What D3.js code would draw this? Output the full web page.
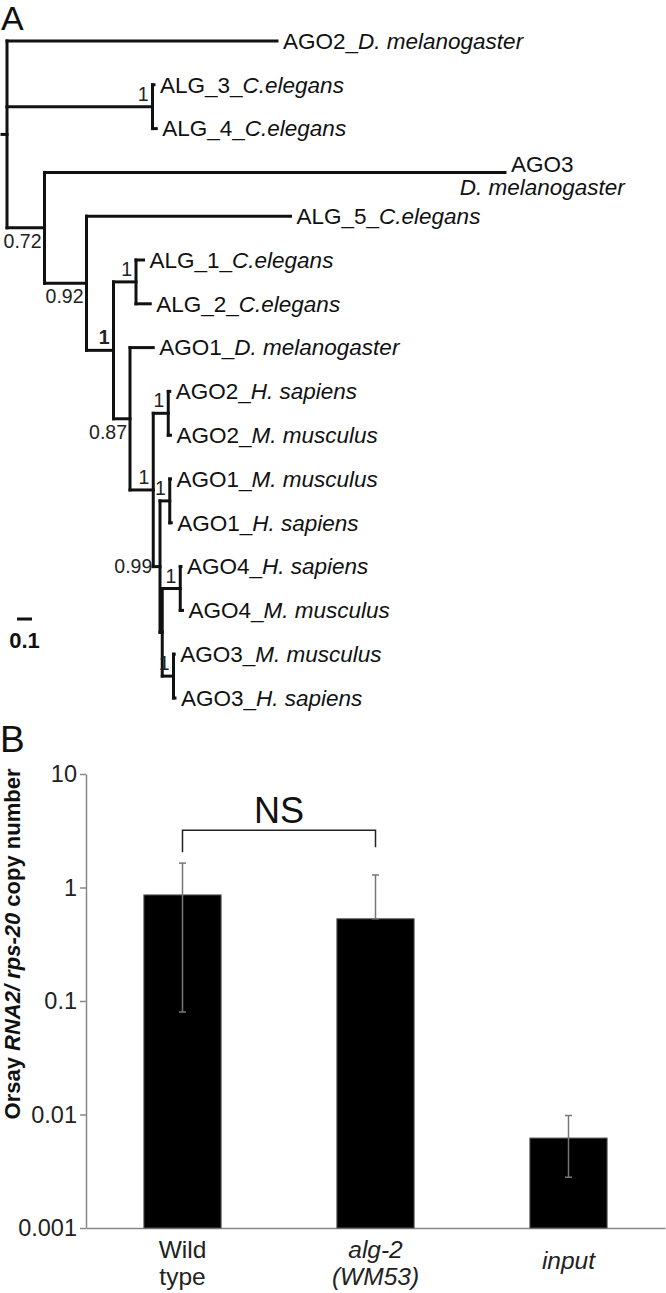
<!DOCTYPE html>
<html>
<head>
<meta charset="utf-8">
<script src="https://cdn.jsdelivr.net/npm/d3@7"></script>
<style>
  body { margin: 0; background: #fff; }
  svg { display: block; font-family: "Liberation Sans", Arial, sans-serif; }
</style>
</head>
<body>
<svg id="fig"></svg>
<script>
// Panel A: Argonaute tree (branch lengths in substitutions/site, support = posterior)
var mammalClade = {len: 0.155, support: "1", children: [
  {support: "1", len: 0.10, children: [
    {name: "AGO2_", sp: "H. sapiens", len: 0.01},
    {name: "AGO2_", sp: "M. musculus", len: 0.015}]},
  {support: "0.99", len: 0.045, children: [
    {support: "1", len: 0.065, children: [
      {name: "AGO1_", sp: "M. musculus", len: 0.005},
      {name: "AGO1_", sp: "H. sapiens", len: 0.01}]},
    {len: 0.015, children: [
      {support: "1", len: 0.12, children: [
        {name: "AGO4_", sp: "H. sapiens", len: 0.005},
        {name: "AGO4_", sp: "M. musculus", len: 0.015}]},
      {support: "1", len: 0.075, children: [
        {name: "AGO3_", sp: "M. musculus", len: 0.005},
        {name: "AGO3_", sp: "H. sapiens", len: 0.01}]}
    ]}
  ]}
]};

var ago1Clade = {support: "1", bold: true, len: 0.18, children: [
  {support: "1", len: 0.15, children: [
    {name: "ALG_1_", sp: "C.elegans", len: 0.05},
    {name: "ALG_2_", sp: "C.elegans", len: 0.095}]},
  {support: "0.87", len: 0.11, children: [
    {name: "AGO1_", sp: "D. melanogaster", len: 0.155},
    mammalClade
  ]}
]};

var tree = {children: [
  {name: "AGO2_", sp: "D. melanogaster", len: 1.80},
  {support: "1", len: 0.97, children: [
    {name: "ALG_3_", sp: "C.elegans", len: 0.01},
    {name: "ALG_4_", sp: "C.elegans", len: 0.025}]},
  {support: "0.72", len: 0.25, children: [
    {name: "AGO3", sp: "D. melanogaster", len: 3.07},
    {support: "0.92", len: 0.28, children: [
      {name: "ALG_5_", sp: "C.elegans", len: 1.36},
      ago1Clade
    ]}
  ]}
]};
var scaleBarLen = 0.1;

// Panel B: Orsay RNA2 / rps-20 copy number
var groups = ["Wild type", "alg-2 (WM53)", "input"];
var groupLines = [["Wild", "type"], ["alg-2", "(WM53)"], ["input"]];
var means = [0.86, 0.53, 0.0062];
var errHigh = [1.64, 1.29, 0.0098];
var errLow = [0.080, 0.53, 0.0028];
var yTicks = [0.001, 0.01, 0.1, 1, 10];

var W = 666, H = 1293;
var svg = d3.select("#fig").attr("width", W).attr("height", H);

svg.append("rect").attr("width", W).attr("height", H).attr("fill", "#fff");

// ---------- panel A ----------
svg.append("text").attr("x", 1).attr("y", 30)
  .attr("font-size", 34).attr("fill", "#111").text("A");

var x = d3.scaleLinear().domain([0, 1]).range([7, 157]);

var root = d3.hierarchy(tree);
root.eachBefore(function(d) {
  d.dist = d.parent ? d.parent.dist + d.data.len : 0;
});
var leaves = root.leaves();
var yLeaf = d3.scaleLinear().domain([0, leaves.length - 1]).range([41, 698]);
leaves.forEach(function(d, i) { d.py = yLeaf(i); });
root.eachAfter(function(d) {
  if (d.children) d.py = (d.children[0].py + d.children[d.children.length - 1].py) / 2;
});

var gTree = svg.append("g");

// horizontal branches
gTree.selectAll("path.branch")
  .data(root.descendants().filter(function(d) { return d.parent; }))
  .enter().append("path")
  .attr("class", "branch")
  .attr("d", function(d) {
    return "M" + x(d.parent.dist) + "," + d.py + "H" + x(d.dist);
  });

// vertical connectors
gTree.selectAll("path.vert")
  .data(root.descendants().filter(function(d) { return d.children; }))
  .enter().append("path")
  .attr("class", "vert")
  .attr("d", function(d) {
    return "M" + x(d.dist) + "," + d.children[0].py + "V" + d.children[d.children.length - 1].py;
  });

// root stub
gTree.append("path")
  .attr("d", "M" + (x(0) - 5) + "," + root.py + "H" + x(0));

gTree.selectAll("path")
  .attr("fill", "none")
  .attr("stroke", "#111")
  .attr("stroke-width", 3)
  .attr("stroke-linecap", "square");

// tip labels
leaves.forEach(function(d) {
  var tx = x(d.dist) + 6;
  var t = gTree.append("text")
    .attr("font-size", 22.5)
    .attr("fill", "#111");
  t.append("tspan").text(d.data.name);
  t.append("tspan").attr("font-style", "italic").text(d.data.sp);
  t.attr("x", tx).attr("y", d.py).attr("dy", "0.35em");
  // wrap long labels that would run off the page
  if (tx + t.node().getComputedTextLength() > W) {
    t.remove();
    var l1 = gTree.append("text").attr("font-size", 22.5).attr("fill", "#111")
      .attr("x", tx).attr("y", d.py).text(d.data.name.replace(/_$/, ""));
    var cx = tx + l1.node().getComputedTextLength() / 2;
    gTree.append("text").attr("font-size", 22.5).attr("fill", "#111")
      .attr("font-style", "italic")
      .attr("text-anchor", "middle")
      .attr("x", cx).attr("y", d.py + 23).text(d.data.sp);
  }
});

// support values
root.descendants().filter(function(d) { return d.data.support; }).forEach(function(d) {
  var nx = x(d.dist), lx, ly;
  if (d.data.support === "1") {
    lx = nx - 4; ly = d.py - 6;
  } else if (d.data.len < 0.05) {
    lx = x(d.parent.dist) - 1; ly = d.py + 6;
  } else {
    lx = nx - 3; ly = d.py + 20;
  }
  gTree.append("text")
    .attr("x", lx).attr("y", ly)
    .attr("text-anchor", "end")
    .attr("font-size", 19.5)
    .attr("font-weight", d.data.bold ? "bold" : "normal")
    .attr("fill", "#222")
    .text(d.data.support);
});

// scale bar
var sbX = 17, sbY = 619;
gTree.append("path")
  .attr("d", "M" + sbX + "," + sbY + "H" + (sbX + x(scaleBarLen) - x(0)))
  .attr("stroke", "#111").attr("stroke-width", 3);
gTree.append("text")
  .attr("x", sbX + (x(scaleBarLen) - x(0)) / 2).attr("y", 648)
  .attr("text-anchor", "middle")
  .attr("font-size", 22).attr("font-weight", "bold").attr("fill", "#111")
  .text("0.1");

// ---------- panel B ----------
svg.append("text").attr("x", 0).attr("y", 752)
  .attr("font-size", 37).attr("fill", "#111").text("B");

var yB = d3.scaleLog().domain([0.001, 10]).range([1228, 774]);
var xB = d3.scaleBand().domain(groups).range([86, 665])
  .paddingInner(0.6).paddingOuter(0.3);

var gB = svg.append("g");

var yAxis = gB.append("g")
  .attr("transform", "translate(86,0)")
  .call(d3.axisLeft(yB).tickValues(yTicks).tickSize(6).tickSizeOuter(0).tickPadding(3)
    .tickFormat(function(d) { return String(d); }));
yAxis.selectAll("path, line").attr("stroke", "#888").attr("stroke-width", 1.5);
yAxis.selectAll("text").attr("font-size", 23.5).attr("fill", "#222")
  .attr("font-family", "Liberation Sans, Arial, sans-serif");

var xAxis = gB.append("g")
  .attr("transform", "translate(0,1228)")
  .call(d3.axisBottom(xB).tickSize(0).tickSizeOuter(0).tickFormat(""));
xAxis.select(".domain").attr("stroke", "#888").attr("stroke-width", 1.5);

// bars
gB.selectAll("rect.bar")
  .data(groups)
  .enter().append("rect")
  .attr("class", "bar")
  .attr("x", function(d) { return xB(d); })
  .attr("width", xB.bandwidth())
  .attr("y", function(d, i) { return yB(means[i]); })
  .attr("height", function(d, i) { return yB(0.001) - yB(means[i]); })
  .attr("fill", "#000")
  .attr("stroke", "#555")
  .attr("stroke-width", 1);

// error bars
var eb = gB.selectAll("g.err")
  .data(groups)
  .enter().append("g")
  .attr("class", "err")
  .attr("stroke", "#777")
  .attr("stroke-width", 1.5);
eb.append("line")
  .attr("x1", function(d) { return xB(d) + xB.bandwidth() / 2; })
  .attr("x2", function(d) { return xB(d) + xB.bandwidth() / 2; })
  .attr("y1", function(d, i) { return yB(errHigh[i]); })
  .attr("y2", function(d, i) { return yB(errLow[i]); });
[errHigh, errLow].forEach(function(arr) {
  eb.append("line")
    .attr("x1", function(d) { return xB(d) + xB.bandwidth() / 2 - 3.5; })
    .attr("x2", function(d) { return xB(d) + xB.bandwidth() / 2 + 3.5; })
    .attr("y1", function(d, i) { return yB(arr[i]); })
    .attr("y2", function(d, i) { return yB(arr[i]); });
});

// NS bracket between first two groups
var bx1 = xB(groups[0]) + xB.bandwidth() / 2;
var bx2 = xB(groups[1]) + xB.bandwidth() / 2;
var by = yB(3.2);
gB.append("path")
  .attr("d", "M" + bx1 + "," + (by + 22) + "V" + by + "H" + bx2 + "V" + (by + 17))
  .attr("fill", "none").attr("stroke", "#222").attr("stroke-width", 1.5);
gB.append("text")
  .attr("x", (bx1 + bx2) / 2).attr("y", by - 7)
  .attr("text-anchor", "middle")
  .attr("font-size", 36).attr("fill", "#111")
  .text("NS");

// category labels
groups.forEach(function(g, i) {
  var lines = groupLines[i];
  var t = gB.append("text")
    .attr("text-anchor", "middle")
    .attr("font-size", 24.5)
    .attr("fill", "#222")
    .attr("font-style", i > 0 ? "italic" : "normal");
  lines.forEach(function(l, j) {
    t.append("tspan")
      .attr("x", xB(g) + xB.bandwidth() / 2)
      .attr("y", 1258 + (2 - lines.length) * 11 + j * 27)
      .text(l);
  });
});

// y axis title
var yt = gB.append("text")
  .attr("transform", "translate(20,944) rotate(-90)")
  .attr("text-anchor", "middle")
  .attr("font-size", 22)
  .attr("font-weight", "bold")
  .attr("fill", "#111");
yt.append("tspan").text("Orsay ");
yt.append("tspan").attr("font-style", "italic").text("RNA2/");
yt.append("tspan").text(" ");
yt.append("tspan").attr("font-style", "italic").text("rps-20");
yt.append("tspan").text(" copy number");
</script>
</body>
</html>
